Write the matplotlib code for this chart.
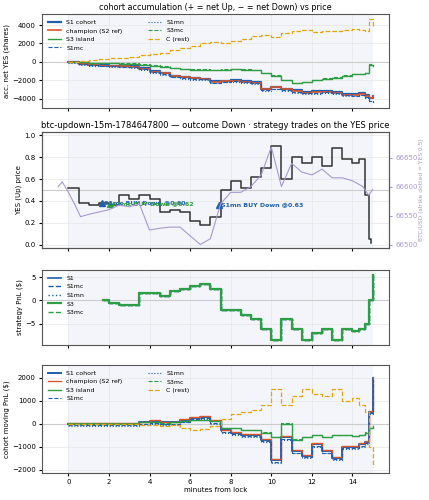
import matplotlib
matplotlib.use('Agg')
import matplotlib.pyplot as plt
import numpy as np

# ── Data ─────────────────────────────────────────────────────────────────────
T = [0, 0.5, 1, 1.5, 2, 2.5, 3, 3.5, 4, 4.5, 5, 5.5, 6, 6.5, 7, 7.5, 8, 8.5,
     9, 9.5, 10, 10.5, 11, 11.5, 12, 12.5, 13, 13.5, 14, 14.3, 14.6, 14.8, 15]

acc_c    = [0, 100, 200, 300, 400, 450, 500, 800, 900, 1000, 1300, 1500, 1700, 2000, 2200, 2100, 2300,
            2500, 2800, 2900, 2700, 3100, 3400, 3500, 3300, 3400, 3400, 3500, 3600, 3500, 3400, 4700, 3800]
acc_s1   = [0, -200, -300, -350, -400, -400, -450, -700, -1000, -1200, -1500, -1600, -1700, -1800, -2100,
            -2050, -2000, -2100, -2200, -2900, -2700, -2900, -3100, -3300, -3200, -3200, -3300, -3500,
            -3500, -3400, -3600, -3900, -3700]
acc_s3   = [0, -50, -100, -150, -150, -200, -200, -300, -400, -500, -700, -800, -850, -850, -900, -850,
            -800, -850, -900, -1200, -1500, -2000, -2300, -2200, -2000, -1800, -1700, -1500, -1300,
            -1300, -1200, -300, -400]
acc_s1mc = [0, -250, -350, -400, -450, -500, -550, -800, -1100, -1300, -1600, -1750, -1850, -1900, -2250,
            -2150, -2100, -2200, -2300, -3100, -2900, -3050, -3250, -3400, -3350, -3300, -3400, -3600,
            -3650, -3550, -3800, -4200, -4400]

yes_t = [0, 0.5, 1, 1.5, 2, 2.5, 3, 3.5, 4, 4.5, 5, 5.5, 6, 6.5, 7, 7.5, 8, 8.5, 9, 9.5, 10,
         10.5, 11, 11.5, 12, 12.5, 13, 13.5, 14, 14.3, 14.6, 14.8, 14.9]
yes_p = [0.52, 0.38, 0.36, 0.38, 0.36, 0.45, 0.42, 0.45, 0.42, 0.30, 0.32, 0.30, 0.22, 0.18, 0.25,
         0.50, 0.58, 0.52, 0.62, 0.70, 0.90, 0.60, 0.80, 0.75, 0.80, 0.72, 0.88, 0.78, 0.75, 0.78,
         0.45, 0.05, 0.02]
btc_t = [-0.5, -0.3, 0, 0.3, 0.6, 1, 1.5, 2, 2.5, 3, 3.5, 4, 4.5, 5, 5.5, 6, 6.5, 7, 7.5, 8, 8.5, 9,
         9.5, 10, 10.5, 11, 11.5, 12, 12.5, 13, 13.5, 14, 14.5, 14.8, 15]
btc_p = [66600, 66608, 66590, 66570, 66548, 66552, 66556, 66560, 66568, 66565, 66570, 66525, 66528,
         66530, 66530, 66515, 66500, 66510, 66570, 66590, 66590, 66600, 66620, 66668, 66600, 66640,
         66625, 66620, 66630, 66615, 66615, 66610, 66600, 66585, 66595]

pnl_t  = [1.7, 2, 2.5, 3, 3.5, 4, 4.5, 5, 5.5, 6, 6.5, 7, 7.5, 8, 8.5, 9, 9.5, 10, 10.5, 11,
          11.5, 12, 12.5, 13, 13.5, 14, 14.3, 14.6, 14.8, 15]
pnl_s1 = [0, -0.5, -1, -1, 1.5, 1.5, 1, 2, 2.5, 3, 3.5, 2.5, -2, -2, -3, -4, -6, -8.5, -4, -6,
          -8.5, -7, -6, -8.5, -6, -6.5, -6, -5, 0, 5.5]

mv_c  = [0, 0, 0, 0, 0, 0, 0, -50, -50, -100, -50, -200, -300, -250, -100, 200, 400, 500, 600, 800,
         1500, 800, 1200, 1500, 1300, 1200, 1500, 1000, 1100, 800, 500, -1000, -1900]
mv_s1 = [0, 0, 0, 0, 0, 0, 0, 50, 100, 50, 50, 150, 250, 300, 100, -300, -400, -500, -500, -700,
         -1600, -600, -1200, -1400, -900, -1200, -1500, -1000, -1000, -900, -800, 500, 2000]
mv_s3 = [0, 0, 0, 0, 0, 0, 0, 50, 50, 0, 50, 100, 150, 150, 100, -200, -200, -300, -300, -400,
         -600, 0, -700, -600, -500, -600, -500, -500, -550, -500, -400, -200, -100]

trades = [(1.65, 0.38, '#1f5fb0', 'S1mc BUY Down @0.60'),
          (2.05, 0.37, '#2e9e44', 'S3mc BUY Down @0.62'),
          (7.4, 0.36, '#1f5fb0', 'S1mn BUY Down @0.63')]

BLUE, RED, GREEN, GOLD, PURPLE = '#1f5fb0', '#d9552b', '#2e9e44', '#e5a50a', '#a898d0'

plt.rcParams['font.size'] = 5.0
plt.rcParams['xtick.major.size'] = 2.5
plt.rcParams['ytick.major.size'] = 2.5
plt.rcParams['xtick.major.pad'] = 2
plt.rcParams['ytick.major.pad'] = 2
plt.rcParams['axes.labelpad'] = 1.5
fig = plt.figure(figsize=(4.29, 5.0), dpi=100)
L, W = 42 / 429, 347 / 429
ax1 = fig.add_axes([L, 1 - 108 / 500, W, 94 / 500])
ax2 = fig.add_axes([L, 1 - 248 / 500, W, 116 / 500], sharex=ax1)
ax3 = fig.add_axes([L, 1 - 345 / 500, W, 75 / 500], sharex=ax1)
ax4 = fig.add_axes([L, 1 - 473 / 500, W, 108 / 500], sharex=ax1)

for ax in (ax1, ax2, ax3, ax4):
    ax.axvspan(0, 15, color='#eef2f9', alpha=0.7, lw=0)
    ax.grid(color='#e6e6e6', lw=0.5)
    for s in ax.spines.values():
        s.set_color('#555555')

def s(a):
    return np.array(a, dtype=float)

# panel 1
ax1.axhline(0, color='#cccccc', lw=0.8)
ax1.step(T, acc_s1, where='post', color=BLUE, lw=1.6, label='S1 cohort')
ax1.step(T, s(acc_s1) - 50, where='post', color=RED, lw=1.2, label='champion (S2 ref)')
ax1.step(T, acc_s3, where='post', color=GREEN, lw=1.0, label='S3 island')
ax1.step(T, acc_s1mc, where='post', color=BLUE, lw=0.8, ls='--', label='S1mc')
ax1.step(T, s(acc_s1mc) - 80, where='post', color=BLUE, lw=0.8, ls=':', label='S1mn')
ax1.step(T, s(acc_s3) + 30, where='post', color=GREEN, lw=0.8, ls='--', label='S3mc')
ax1.step(T, acc_c, where='post', color=GOLD, lw=0.9, ls='--', label='C (rest)')
ax1.set_ylim(-5000, 5200)
ax1.set_yticks([-4000, -2000, 0, 2000, 4000])
ax1.set_ylabel('acc. net YES (shares)')
ax1.set_title('cohort accumulation (+ = net Up, − = net Down) vs price', fontsize=5.8, pad=3)
ax1.legend(loc='upper left', ncol=2, fontsize=4.5, frameon=False, handlelength=2.2,
           columnspacing=4)

# panel 2
ax2.axhline(0.5, color='#cccccc', lw=0.8)
ax2.step(yes_t, yes_p, where='post', color='#333333', lw=1.1)
ax2.set_ylim(-0.03, 1.03)
ax2.set_ylabel('YES (Up) price')
ax2.set_title('btc-updown-15m-1784647800 — outcome Down · strategy trades on the YES price',
              fontsize=6, pad=3)
for tx, ty, c, lab in trades:
    ax2.plot(tx, ty, marker='^', color=c, ms=4.5)
    ax2.text(tx + 0.1, ty + 0.005, lab, color=c, fontsize=4.5, fontweight='bold', va='center')
ax2r = ax2.twinx()
ax2r.plot(btc_t, btc_p, color=PURPLE, lw=0.8)
ax2r.set_ylim(66494, 66694)
ax2r.set_ylabel('BTC/USD (strike dotted = YES 0.5)', color=PURPLE, fontsize=4.3, labelpad=1)
ax2r.tick_params(axis='y', colors=PURPLE)
ax2r.set_yticks([66500, 66550, 66600, 66650])
for sp in ax2r.spines.values():
    sp.set_color('#555555')

# panel 3
ax3.axhline(0, color='#cccccc', lw=0.8)
ax3.step(pnl_t, pnl_s1, where='post', color=BLUE, lw=1.2, label='S1')
ax3.step(pnl_t, pnl_s1, where='post', color=BLUE, lw=1.0, ls='--', label='S1mc')
ax3.step(pnl_t, pnl_s1, where='post', color=BLUE, lw=1.0, ls=':', label='S1mn')
ax3.step(pnl_t, pnl_s1, where='post', color=GREEN, lw=1.6, label='S3')
ax3.step(pnl_t, pnl_s1, where='post', color=GREEN, lw=1.0, ls='--', label='S3mc')
ax3.set_ylim(-9.5, 6.5)
ax3.set_yticks([-5, 0, 5])
ax3.set_ylabel('strategy PnL ($)')
ax3.legend(loc='upper left', fontsize=4.5, frameon=False, handlelength=2.2, labelspacing=0.5)

# panel 4
ax4.axhline(0, color='#cccccc', lw=0.8)
ax4.step(T, mv_s1, where='post', color=BLUE, lw=1.4, label='S1 cohort')
ax4.step(T, s(mv_s1) + 40, where='post', color=RED, lw=1.0, label='champion (S2 ref)')
ax4.step(T, mv_s3, where='post', color=GREEN, lw=1.0, label='S3 island')
ax4.step(T, s(mv_s1) - 60, where='post', color=BLUE, lw=0.8, ls='--', label='S1mc')
ax4.step(T, s(mv_s1) - 100, where='post', color=BLUE, lw=0.8, ls=':', label='S1mn')
ax4.step(T, s(mv_s3) + 20, where='post', color=GREEN, lw=0.8, ls='--', label='S3mc')
ax4.step(T, mv_c, where='post', color=GOLD, lw=0.9, ls='--', label='C (rest)')
ax4.set_ylim(-2150, 2550)
ax4.set_yticks([-2000, -1000, 0, 1000, 2000])
ax4.set_ylabel('cohort moving PnL ($)')
ax4.set_xlabel('minutes from lock', labelpad=1)
ax4.legend(loc='upper left', ncol=2, fontsize=4.5, frameon=False, handlelength=2.2,
           columnspacing=4)

ax1.set_xlim(-1.3, 15.8)
ax1.set_xticks([0, 2, 4, 6, 8, 10, 12, 14])
for ax in (ax1, ax2, ax3):
    ax.tick_params(labelbottom=False)

fig.savefig('out.png', dpi=100)
